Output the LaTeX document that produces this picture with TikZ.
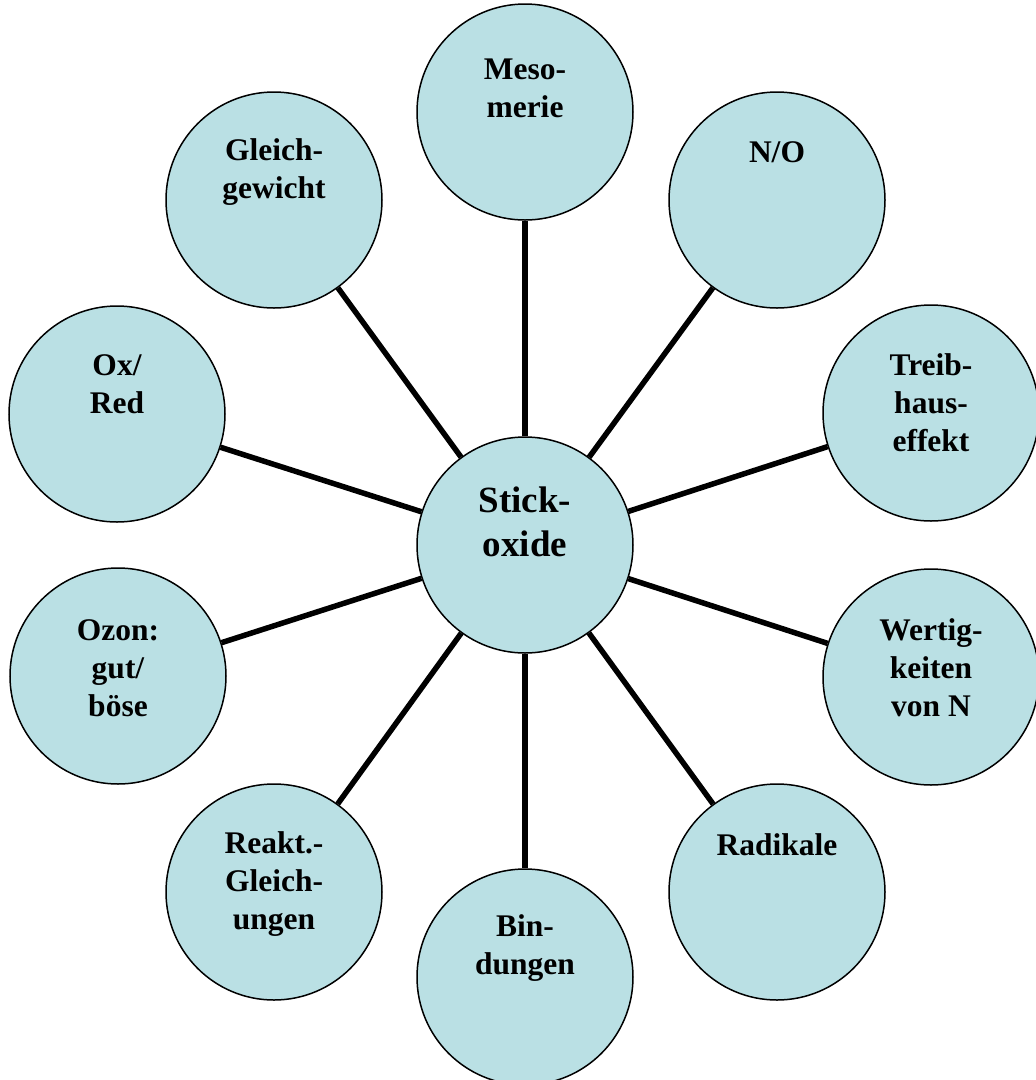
\documentclass[tikz,border=0pt]{standalone}
\usepackage{fontspec}
\setmainfont{Liberation Serif}
\definecolor{bubblefill}{RGB}{186,224,228}
\begin{document}
\begin{tikzpicture}[x=1pt,y=-1pt,
  bubble/.style={circle,draw=black,line width=1.5pt,fill=bubblefill,minimum size=216pt,inner sep=0pt},
  lbl/.style={anchor=base,align=center,inner sep=0pt,font=\bfseries\fontsize{31.5}{38}\selectfont},
  biglbl/.style={anchor=base,align=center,inner sep=0pt,font=\bfseries\fontsize{37}{44}\selectfont},
  spoke/.style={line width=5.5pt,black}]
\useasboundingbox (0,0) rectangle (1036,1080);
\node[bubble] (c0) at (525,545) {};
\node[bubble] (me) at (525,112) {};
\node[bubble] (no) at (777,200) {};
\node[bubble] (tr) at (931,413) {};
\node[bubble] (we) at (931,677) {};
\node[bubble] (ra) at (777,892) {};
\node[bubble] (bi) at (525,977) {};
\node[bubble] (re) at (274,892) {};
\node[bubble] (oz) at (118,676) {};
\node[bubble] (ox) at (117,414) {};
\node[bubble] (gl) at (274,200) {};
\foreach \n in {me,no,tr,we,ra,bi,re,oz,ox,gl} \draw[spoke] (c0) -- (\n);
% base anchor of a multi-line node sits on its last line
\node[biglbl] (t0) at (525,556) {Stick-\\oxide};
\node[lbl] (tme) at (525,117) {Meso-\\merie};
\node[lbl] (tno) at (777,162) {N/O};
\node[lbl] (ttr) at (931,451) {Treib-\\haus-\\effekt};
\node[lbl] (twe) at (931,716) {Wertig-\\keiten\\von N};
\node[lbl] (tra) at (777,855) {Radikale};
\node[lbl] (tbi) at (525,974) {Bin-\\dungen};
\node[lbl] (tre) at (274,929) {Reakt.-\\Gleich-\\ungen};
\node[lbl] (toz) at (118,716) {Ozon:\\gut/\\böse};
\node[lbl] (tox) at (117,413) {Ox/\\Red};
\node[lbl] (tgl) at (274,198) {Gleich-\\gewicht};
\end{tikzpicture}
\end{document}
